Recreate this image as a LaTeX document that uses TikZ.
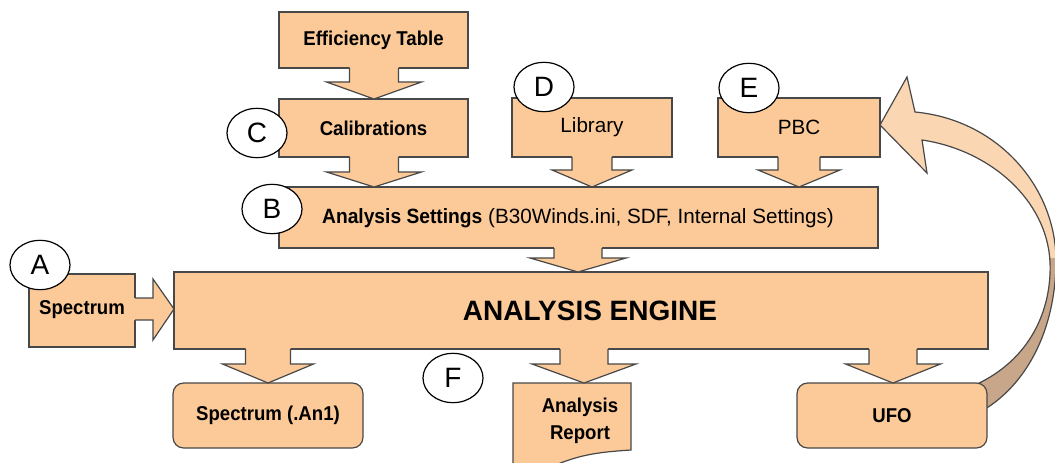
\documentclass[tikz,border=0pt]{standalone}
\usepackage{fontspec}
\setmainfont{Liberation Sans}
\newfontfamily\lblfont[FakeStretch=0.93]{Liberation Sans}
\usetikzlibrary{calc,fit,shapes.geometric}
\definecolor{boxfill}{RGB}{252,202,152}
\definecolor{boxline}{RGB}{72,72,72}
\definecolor{lightband}{RGB}{250,214,178}
\definecolor{darkband}{RGB}{200,166,138}
\tikzset{
  edge/.style={draw=boxline, line width=0.9pt, line join=miter},
  blk/.style={edge, fill=boxfill, inner sep=0pt, outer sep=0pt, rectangle},
  rblk/.style={blk, rounded corners=8pt},
  lbl/.style={font=\lblfont\bfseries\fontsize{15}{20}\selectfont, text=black, align=center},
  reg/.style={font=\fontsize{15.5}{18}\selectfont, text=black},
  eng/.style={font=\bfseries\fontsize{21}{24}\selectfont, text=black},
  circ/.style={ellipse, draw=black, fill=white, line width=0.9pt, minimum width=45pt,
               minimum height=37pt, inner sep=0pt, font=\fontsize{21}{24}\selectfont}
}
\newcommand\dnarrow[6]{%
  \fill[boxfill] ($({#3-#4},0 |- #1.south)+(0,-1.5)$) -- ($({#3-#4},0 |- #1.south)+(0,#6)$)
     -- ($({#3-#5},0 |- #1.south)+(0,#6)$) -- ({#3},0 |- #2.north)
     -- ($({#3+#5},0 |- #1.south)+(0,#6)$) -- ($({#3+#4},0 |- #1.south)+(0,#6)$)
     -- ($({#3+#4},0 |- #1.south)+(0,-1.5)$) -- cycle;
  \draw[edge] ({#3-#4},0 |- #1.south) -- ($({#3-#4},0 |- #1.south)+(0,#6)$)
     -- ($({#3-#5},0 |- #1.south)+(0,#6)$) -- ({#3},0 |- #2.north)
     -- ($({#3+#5},0 |- #1.south)+(0,#6)$) -- ($({#3+#4},0 |- #1.south)+(0,#6)$)
     -- ({#3+#4},0 |- #1.south);
}
\def\bandpath{(975,385) .. controls (1030,360) and (1052,310) .. (1050,262)
  .. controls (1047,200) and (990,150) .. (922,140) -- (927,173) -- (880,125) -- (907,77)
  -- (915,112) .. controls (1000,120) and (1058,190) .. (1056,265)
  .. controls (1054,340) and (1020,390) .. (980,412)}
\begin{document}
\begin{tikzpicture}[x=0.75pt,y=-0.75pt]
\clip (0,0) rectangle (1055,463);
\fill[white] (0,0) rectangle (1055,463);
% curved feedback arrow UFO -> PBC
\fill[lightband] \bandpath -- cycle;
\begin{scope}
  \clip (900,258) rectangle (1060,463);
  \fill[darkband] \bandpath -- cycle;
\end{scope}
\draw[edge] \bandpath;
% boxes
\node[blk, fit={(279,12) (468,68)}] (et) {};
\node[blk, fit={(279,99) (468,157)}] (cal) {};
\node[blk, fit={(512,98) (672,157)}] (lib) {};
\node[blk, fit={(718,98) (880,157)}] (pbc) {};
\node[blk, fit={(279,187) (878,248)}] (set) {};
\node[blk, fit={(174,272) (988,349)}] (eng) {};
\node[blk, fit={(29,274) (135,347)}] (spec) {};
\node[rblk, fit={(173,383) (363,448)}] (an1) {};
\node[rblk, fit={(797,383) (987,448)}] (ufo) {};
\node[draw=none, inner sep=0pt, outer sep=0pt, fit={(513,383) (631,450)}] (rep) {};
\path[blk] (rep.north west) -- (rep.north east) -- (rep.south east)
  .. controls +(-30,2) and +(25,-10) .. ($(rep.south west)+(45,14)$)
  .. controls +(-18,5) and +(12,0) .. ($(rep.south west)+(0,18)$) -- cycle;
% block arrows
\dnarrow{et}{cal}{374}{24.5}{47.5}{14}
\dnarrow{cal}{set}{374}{24.5}{47.5}{15}
\dnarrow{lib}{set}{592}{20}{40}{13}
\dnarrow{pbc}{set}{799}{21}{41}{13}
\dnarrow{set}{eng}{578}{24}{48}{10}
\dnarrow{eng}{an1}{268}{22.5}{45.5}{15}
\dnarrow{eng}{rep}{584}{24}{52}{15}
\dnarrow{eng}{ufo}{893}{24}{47.5}{15}
\fill[boxfill] ($(spec.east |- 0,298)+(-1.5,0)$) -- (153,298) -- (153,279) -- (eng.west |- 0,309)
  -- (153,340) -- (153,320) -- ($(spec.east |- 0,320)+(-1.5,0)$) -- cycle;
\draw[edge] (spec.east |- 0,298) -- (153,298) -- (153,279) -- (eng.west |- 0,309)
  -- (153,340) -- (153,320) -- (spec.east |- 0,320);
% texts
\node[lbl] at (et.center) {Efficiency Table};
\node[lbl] at (cal.center) {Calibrations};
\node[reg] at (lib.center) {Library};
\node[reg] at (pbc.center) {PBC};
\node[reg] at (578,218) {{\lblfont\bfseries Analysis Settings} (B30Winds.ini, SDF, Internal Settings)};
\node[eng] at (590,311) {ANALYSIS ENGINE};
\node[lbl] at (82,310) {Spectrum};
\node[lbl] at (an1.center) {Spectrum (.An1)};
\node[lbl] at (580,421) {Analysis\\Report};
\node[lbl] at (ufo.center) {UFO};
% letter markers
\node[circ] (cA) at (40,265) {A};
\node[circ] (cB) at (272,209) {B};
\node[circ] (cC) at (257,133) {C};
\node[circ] (cD) at (544,87) {D};
\node[circ] (cE) at (749,88) {E};
\node[circ] (cF) at (453,378) {F};
\end{tikzpicture}
\end{document}
